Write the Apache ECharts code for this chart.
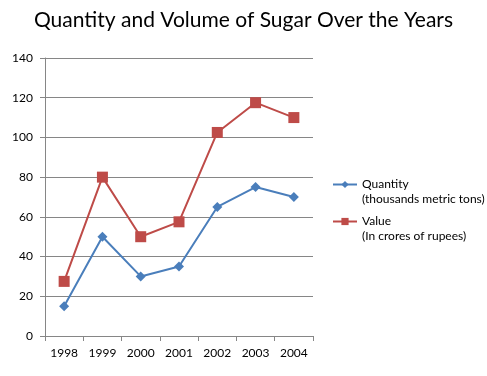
<!DOCTYPE html>
<html>
<head>
<meta charset="utf-8">
<script src="https://cdn.jsdelivr.net/npm/echarts@6/dist/echarts.min.js"></script>
<style>
  html, body { margin: 0; padding: 0; background: #fff; }
  #container { width: 487px; height: 376px; }
</style>
</head>
<body>
<div id="container"></div>
<script>
    var years = ['1998', '1999', '2000', '2001', '2002', '2003', '2004'];
    var quantity = [15, 50, 30, 35, 65, 75, 70];
    var value = [27.5, 80, 50, 57.5, 102.5, 117.5, 110];
    var units = {
        Quantity: '(thousands metric tons)',
        Value: '(In crores of rupees)'
    };

    var dom = document.getElementById("container");
    var myChart = echarts.init(dom);
    var font = 'Lato';
    // blank first line keeps the legend icon level with the series name
    var legendText = function (name) { return ' \n' + name + '\n' + units[name]; };
    var option = {
        color: ['#4a7ebb', '#be4b48'],
        textStyle: { fontFamily: font },
        title: {
            text: 'Quantity and Volume of Sugar Over the Years',
            left: 'center',
            top: 5,
            textStyle: { fontFamily: font, fontSize: 21, fontWeight: 'normal', color: '#000' }
        },
        legend: [{
            data: ['Quantity'],
            left: 332, top: 162,
            padding: 0,
            itemWidth: 24, itemHeight: 9,
            formatter: legendText,
            textStyle: { color: '#000', fontSize: 12, lineHeight: 15, fontFamily: font }
        }, {
            data: ['Value'],
            left: 332, top: 199,
            padding: 0,
            itemWidth: 24, itemHeight: 9,
            formatter: legendText,
            textStyle: { color: '#000', fontSize: 12, lineHeight: 15, fontFamily: font }
        }],
        grid: { left: 45, right: 174, top: 58, bottom: 40 },
        xAxis: {
            type: 'category',
            data: years,
            boundaryGap: true,
            axisLine: { lineStyle: { color: '#868686' } },
            axisTick: { show: true, length: 5, lineStyle: { color: '#868686' } },
            axisLabel: { color: '#000', fontSize: 12, margin: 11, fontFamily: font }
        },
        yAxis: {
            type: 'value',
            min: 0, max: 140, interval: 20,
            axisLine: { show: true, lineStyle: { color: '#868686' } },
            axisTick: { show: true, length: 5, lineStyle: { color: '#868686' } },
            axisLabel: { color: '#000', fontSize: 12, margin: 12, fontFamily: font },
            splitLine: { lineStyle: { color: '#868686' } }
        },
        series: [{
            name: 'Quantity',
            type: 'line',
            data: quantity,
            symbol: 'diamond',
            symbolSize: 10,
            lineStyle: { width: 2 },
            animation: false
        }, {
            name: 'Value',
            type: 'line',
            data: value,
            symbol: 'rect',
            symbolSize: 11,
            lineStyle: { width: 2 },
            animation: false
        }]
    };
    myChart.setOption(option, true);
</script>
</body>
</html>
